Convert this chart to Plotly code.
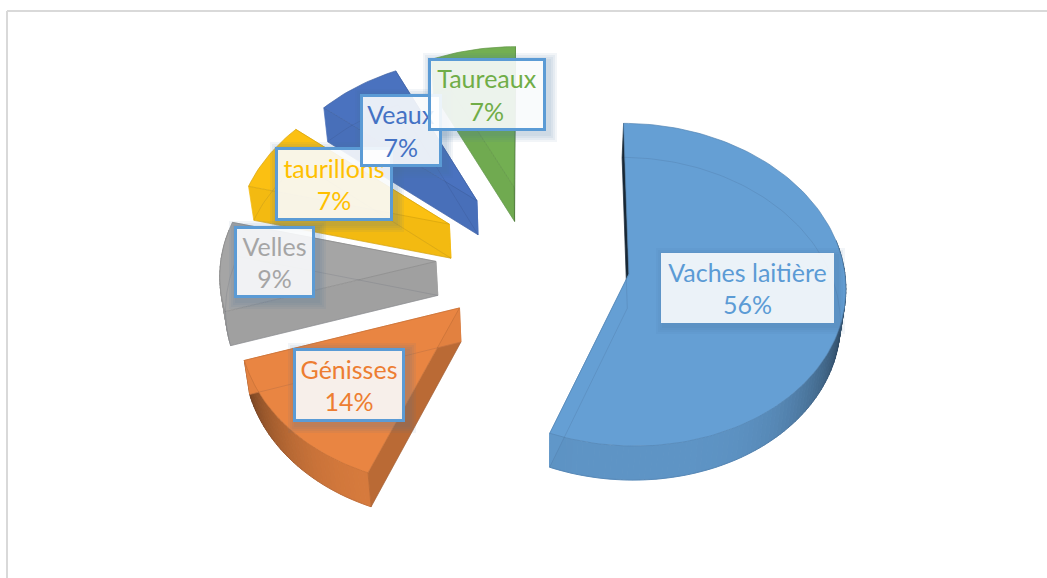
import numpy as np
import plotly.graph_objects as go

categories = ["Vaches laitière", "Génisses", "Velles", "taurillons", "Veaux", "Taureaux"]
values = [56, 14, 9, 7, 7, 7]
colors = ["#659FD4", "#E98542", "#A5A5A5", "#FBC012", "#4A72BF", "#73AF52"]
text_colors = ["#5B9BD5", "#ED7D31", "#A5A5A5", "#FFC000", "#4472C4", "#70AD47"]

# explode distance of each slice, its fine placement, and shading of faces
pulls = [88, 108, 103, 102, 102, 108]
nudge_x = [2, 0, -1, -1, -2, -3]
nudge_y = [4, -6, 1, 0, 1, 5]
start_shade = [0.25, 0.80, 0.97, 0.97, 0.97, 0.97]
end_shade = [0.95, 0.97, 0.97, 0.97, 0.97, 0.76]
wall_dark = [0.5, 0.5, 0.0, 0.0, 0.0, 0.0]
# label boxes in page pixels: left, top, right, bottom
boxes = [(661, 253, 834, 323), (293, 348, 405, 422), (234, 226, 315, 298),
         (275, 147, 393, 221), (360, 94, 442, 167), (428, 58, 546, 131)]

W, H = 1047, 578
X0, Y0, R, K, P, DEPTH, SHRINK = 540, 258, 215, 0.74, 0.0003, 34, 0.018


def shade(hex_color, f):
    c = [int(hex_color[i:i + 2], 16) for i in (1, 3, 5)]
    return "rgb(%d,%d,%d)" % tuple(max(0, min(255, round(x * f))) for x in c)


def proj(u, v, z=0.0, dx=0, dy=0):
    u, v = np.asarray(u, float), np.asarray(v, float)
    f = 1 / (1 + P * v)
    return X0 + u * f * (1 - SHRINK * z) + dx, Y0 - K * v * f + z * DEPTH + dy


total = sum(values)
edges = np.concatenate([[0], np.cumsum(values)]) / total * 2 * np.pi

fig = go.Figure()


def poly(x, y, fill, line=None, width=0.7):
    fig.add_trace(go.Scatter(x=list(x), y=list(y), mode="lines", fill="toself",
                             fillcolor=fill, line=dict(color=line or fill, width=width),
                             hoverinfo="skip", showlegend=False))


def stroke(x, y, color, width=0.8):
    fig.add_trace(go.Scatter(x=list(x), y=list(y), mode="lines",
                             line=dict(color=color, width=width),
                             hoverinfo="skip", showlegend=False))


for i in reversed(range(len(values))):
    a0, a1 = edges[i], edges[i + 1]
    mid = (a0 + a1) / 2
    ax, ay = pulls[i] * np.sin(mid), pulls[i] * np.cos(mid)
    n = max(12, int((a1 - a0) * 40))
    th = np.linspace(a0, a1, n + 1)
    ou, ov = ax + R * np.sin(th), ay + R * np.cos(th)
    base = colors[i]
    dx, dy = nudge_x[i], nudge_y[i]

    # outer wall, darker toward the sides of the pie
    for j in range(n):
        t = (th[j] + th[j + 1]) / 2
        if np.cos(t) > 0.2:
            continue
        f = 0.93 - wall_dark[i] * abs(np.sin(t)) ** 4
        x1, y1 = proj(ou[j:j + 2], ov[j:j + 2], 0, dx, dy)
        x2, y2 = proj(ou[j:j + 2][::-1], ov[j:j + 2][::-1], 1, dx, dy)
        poly(np.r_[x1, x2, x1[0]], np.r_[y1, y2, y1[0]], shade(base, f), width=1)

    # cut faces
    for a, s in ((a0, start_shade[i]), (a1, end_shade[i])):
        u = [ax, ax + R * np.sin(a)]
        v = [ay, ay + R * np.cos(a)]
        x1, y1 = proj(u, v, 0, dx, dy)
        x2, y2 = proj(u[::-1], v[::-1], 1, dx, dy)
        poly(np.r_[x1, x2, x1[0]], np.r_[y1, y2, y1[0]], shade(base, s))

    # top face
    x, y = proj(np.r_[ax, ou, ax], np.r_[ay, ov, ay], 0, dx, dy)
    poly(x, y, base, shade(base, 0.85))

    # faint see-through edges of the bottom face
    x, y = proj(np.r_[ax, ou, ax], np.r_[ay, ov, ay], 1, dx, dy)
    stroke(x, y, "rgba(40,50,70,0.14)")

shapes = [
    dict(type="line", x0=7, x1=7, y0=11, y1=H, line=dict(color="#D9D9D9", width=2), layer="below"),
    dict(type="line", x0=7, x1=W, y0=11, y1=11, line=dict(color="#D9D9D9", width=2), layer="below"),
]
# soft blue glow behind the label boxes
for (l, t, r, b) in boxes:
    for g in (8, 6, 4, 2):
        shapes.append(dict(type="rect", x0=l - g + 3, x1=r + g + 3, y0=t - g + 3, y1=b + g + 3,
                           fillcolor="rgba(70,110,160,0.07)", line=dict(width=0), layer="above"))

annotations = []
for i, (l, t, r, b) in enumerate(boxes):
    bw = 3 if i != 0 else 0
    annotations.append(dict(
        x=(l + r) / 2, y=(t + b) / 2, xref="x", yref="y", showarrow=False,
        text=f"{categories[i]}<br>{round(values[i] / total * 100)}%",
        font=dict(family="Lato, Carlito, sans-serif", size=25, color=text_colors[i]),
        align="center", valign="middle",
        width=r - l - 2 * bw, height=b - t - 2 * bw, borderpad=0,
        borderwidth=bw, bordercolor="#5B9BD5",
        bgcolor="rgba(255,255,255,0.88)",
    ))

fig.update_layout(
    width=W, height=H, margin=dict(l=0, r=0, t=0, b=0),
    paper_bgcolor="white", plot_bgcolor="white",
    xaxis=dict(range=[0, W], visible=False, fixedrange=True),
    yaxis=dict(range=[H, 0], visible=False, fixedrange=True),
    shapes=shapes, annotations=annotations, showlegend=False,
)
fig.write_html("out.html", config={"displayModeBar": False},
               post_script="document.body.style.margin='0';document.body.style.overflow='hidden';")
